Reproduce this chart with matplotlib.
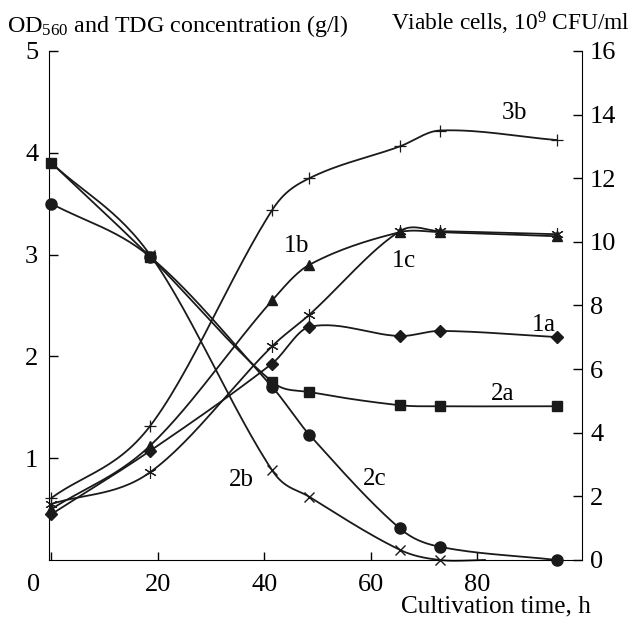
import numpy as np
import matplotlib
matplotlib.use('Agg')
import matplotlib.pyplot as plt
from matplotlib.transforms import ScaledTranslation

plt.rcParams['font.family'] = 'Liberation Serif'
plt.rcParams['mathtext.fontset'] = 'custom'
plt.rcParams['mathtext.rm'] = 'Liberation Serif'
plt.rcParams['mathtext.it'] = 'Liberation Serif:italic'

# sampling times, h
hours = [0, 18.5, 41.5, 48.5, 65.5, 73, 95]
hours_2b = [0, 18.5, 41.5, 48.5, 65.5, 73, 81.5]

# OD560 (left axis)
od_1a = [0.45, 1.07, 1.93, 2.29, 2.20, 2.25, 2.19]
od_1b = [0.50, 1.12, 2.55, 2.90, 3.22, 3.22, 3.18]
od_1c = [0.55, 0.86, 2.10, 2.41, 3.23, 3.23, 3.20]

# TDG concentration, g/l (left axis)
tdg_2a = [3.90, 2.98, 1.75, 1.65, 1.52, 1.51, 1.51]
tdg_2b = [3.90, 3.00, 0.88, 0.62, 0.10, 0.00, 0.00]
tdg_2c = [3.50, 2.98, 1.70, 1.23, 0.31, 0.13, 0.00]

# viable cells, 10^9 CFU/ml (right axis)
cells_3b = [1.95, 4.2, 11.0, 12.0, 13.0, 13.5, 13.2]

left_ticks = [1, 2, 3, 4, 5]
right_ticks = [0, 2, 4, 6, 8, 10, 12, 14, 16]
x_ticks = [0, 20, 40, 60, 80]


def smooth(x, y, steps=30):
    # cubic hermite through the points, tangents from neighbours (smoothed line)
    x = np.asarray(x, float)
    y = np.asarray(y, float)
    m = np.empty_like(y)
    m[1:-1] = (y[2:] - y[:-2]) / (x[2:] - x[:-2])
    m[0] = (y[1] - y[0]) / (x[1] - x[0])
    m[-1] = (y[-1] - y[-2]) / (x[-1] - x[-2])
    xs, ys = [], []
    t = np.linspace(0, 1, steps)
    for i in range(len(x) - 1):
        h = x[i + 1] - x[i]
        h00 = 2 * t ** 3 - 3 * t ** 2 + 1
        h10 = t ** 3 - 2 * t ** 2 + t
        h01 = -2 * t ** 3 + 3 * t ** 2
        h11 = t ** 3 - t ** 2
        seg = h00 * y[i] + h10 * h * m[i] + h01 * y[i + 1] + h11 * h * m[i + 1]
        start = 0 if i == 0 else 1
        xs.append((x[i] + t * h)[start:])
        ys.append(seg[start:])
    return np.concatenate(xs), np.concatenate(ys)


def draw(axis, x, y, marker, ms, mew=1.0, markevery=None):
    sx, sy = smooth(x, y)
    axis.plot(sx, sy, color='#1a1a1a', lw=1.3, clip_on=False, zorder=2)
    axis.plot(x, y, ls='none', marker=marker, ms=ms, color='#1a1a1a', mew=mew,
              markevery=markevery, clip_on=False, zorder=3)


fig = plt.figure(figsize=(6.33, 6.24), dpi=100)
ax = fig.add_axes([0.0779, 0.1026, 0.8411, 0.8157])
ax2 = ax.twinx()

draw(ax, hours, od_1a, 'D', 6.5)
draw(ax, hours, od_1b, '^', 7.5)
draw(ax, hours, od_1c, (6, 2, 0), 9, mew=0.8)
draw(ax, hours, tdg_2a, 's', 7.5)
draw(ax, hours_2b, tdg_2b, 'x', 7, mew=1.0, markevery=list(range(6)))
draw(ax, hours, tdg_2c, 'o', 8)
draw(ax2, hours, cells_3b, '+', 9, mew=0.9)

ax.set_xlim(-0.4, 99.7)
ax.set_ylim(0, 5)
ax2.set_ylim(0, 16)
ax.set_xticks(x_ticks)
ax.set_yticks(left_ticks)
ax2.set_yticks(right_ticks)

for a in (ax, ax2):
    a.spines['top'].set_visible(False)
    a.patch.set_visible(False)
ax.spines['right'].set_visible(False)
ax2.spines['left'].set_visible(False)
ax2.spines['bottom'].set_visible(False)

ax.tick_params(axis='y', direction='in', length=6.5, width=1, labelsize=19, pad=8)
ax.tick_params(axis='x', direction='in', length=6, width=1, labelsize=19, pad=10)
ax2.tick_params(axis='y', direction='in', length=6.5, width=1, labelsize=19, pad=6)

# the "0" sits to the left of the axis origin
ax.get_xticklabels()[0].set_transform(
    ax.get_xticklabels()[0].get_transform() + ScaledTranslation(-0.18, 0, fig.dpi_scale_trans))

fig.text(0.011, 0.958, r'OD$_{560}$ and TDG concentration (g/l)', fontsize=17.3,
         ha='left', va='center')
fig.text(0.995, 0.963, r'Viable cells, 10$^{9}$ CFU/ml', fontsize=16.8,
         ha='right', va='center')
fig.text(0.933, 0.028, 'Cultivation time, h', fontsize=18.2, ha='right', va='center')

labels = [
    (87.0, 4.39, r'$\mathit{3}$b'),
    (46.0, 3.08, r'$\mathit{1}$b'),
    (66.1, 2.94, r'$\mathit{1}$c'),
    (92.6, 2.31, r'$\mathit{1}$a'),
    (84.8, 1.63, '2a'),
    (35.8, 0.79, '2b'),
    (60.8, 0.80, '2c'),
]
for lx, ly, txt in labels:
    ax.text(lx, ly, txt, fontsize=18, ha='center', va='center')

fig.savefig('out.png', dpi=100)
